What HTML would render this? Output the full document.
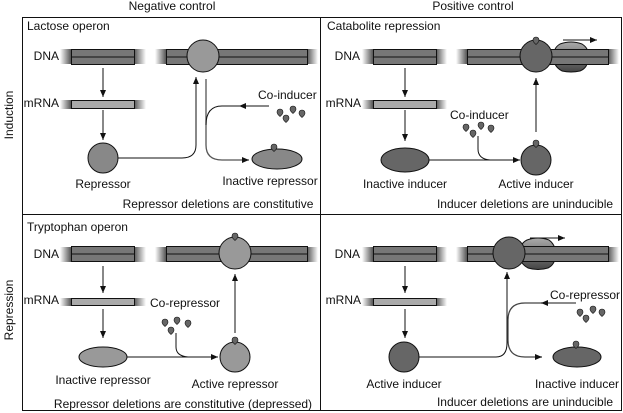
<!DOCTYPE html>
<html><head><meta charset="utf-8"><style>
html,body{margin:0;padding:0;background:#fff;width:623px;height:413px;overflow:hidden}
svg{display:block}
text{font-family:"Liberation Sans",Arial,sans-serif;font-size:12px;fill:#111}
</style></head><body>
<svg width="623" height="413" viewBox="0 0 623 413" xmlns="http://www.w3.org/2000/svg">
<defs>
<linearGradient id="gl" x1="0" x2="1" y1="0" y2="0"><stop offset="0" stop-color="#fff"/><stop offset="1" stop-color="#555"/></linearGradient>
<linearGradient id="gr" x1="0" x2="1" y1="0" y2="0"><stop offset="0" stop-color="#555"/><stop offset="1" stop-color="#fff"/></linearGradient>
<linearGradient id="pol" x1="0" x2="0" y1="0" y2="1"><stop offset="0" stop-color="#aaa"/><stop offset="0.5" stop-color="#777"/><stop offset="1" stop-color="#444"/></linearGradient>
<marker id="ah" markerWidth="8" markerHeight="8" refX="7" refY="3" orient="auto" markerUnits="userSpaceOnUse"><path d="M0,0 L7,3 L0,6z" fill="#111"/></marker>
</defs>
<g fill="none" stroke="#111" stroke-width="1">
<rect x="22.5" y="17.5" width="599" height="393"/>
<line x1="320.5" y1="17" x2="320.5" y2="411"/>
<line x1="22" y1="214.5" x2="621" y2="214.5"/>
</g>
<text x="172" y="10" text-anchor="middle">Negative control</text>
<text x="473" y="10" text-anchor="middle">Positive control</text>
<text transform="translate(13,115) rotate(-90)" text-anchor="middle">Induction</text>
<text transform="translate(13,310) rotate(-90)" text-anchor="middle">Repression</text>

<!-- TOP LEFT -->
<g>
<text x="27" y="30">Lactose operon</text>
<text x="59" y="60" text-anchor="end">DNA</text>
<rect x="60" y="49" width="11" height="15" fill="url(#gl)"/><rect x="134" y="49" width="12" height="15" fill="url(#gr)"/>
<rect x="71.5" y="49.5" width="63" height="15" fill="#777" stroke="#111"/><line x1="71" y1="57" x2="134" y2="57" stroke="#111"/>
<rect x="155" y="49" width="11" height="15" fill="url(#gl)"/><rect x="307" y="49" width="11" height="15" fill="url(#gr)"/>
<rect x="166.5" y="49.5" width="141" height="15" fill="#777" stroke="#111"/><line x1="166" y1="57" x2="307" y2="57" stroke="#111"/>
<circle cx="203" cy="56" r="16" fill="#999" stroke="#111"/>
<text x="59" y="107" text-anchor="end">mRNA</text>
<rect x="60" y="100" width="11" height="9" fill="url(#gl)"/><rect x="134" y="100" width="12" height="9" fill="url(#gr)"/>
<rect x="71.5" y="100.5" width="63" height="8" fill="#aaa" stroke="#111"/>
<line x1="103" y1="68" x2="103" y2="97" stroke="#111" marker-end="url(#ah)"/>
<line x1="103" y1="110" x2="103" y2="140" stroke="#111" marker-end="url(#ah)"/>
<circle cx="103" cy="158" r="15" fill="#888" stroke="#111"/>
<text x="103" y="188" text-anchor="middle">Repressor</text>
<path d="M118,158 H182 Q196,158 196,145 V77" fill="none" stroke="#111" marker-end="url(#ah)"/>
<path d="M206,79 V145 Q206,160 222,160 H249" fill="none" stroke="#555" stroke-width="1.3" marker-end="url(#ah)"/>
<line x1="269" y1="106" x2="239" y2="106" stroke="#111" marker-end="url(#ah)"/>
<path d="M240,106 H222 Q206,106 206,125" fill="none" stroke="#111"/>
<text x="258" y="99">Co-inducer</text>
<g fill="#666" stroke="#111" stroke-width="0.6">
<path d="M277,112 a3,3 0 1,1 6,0 q0,2 -3,4.5 q-3,-2.5 -3,-4.5z"/>
<path d="M283,118 a3,3 0 1,1 6,0 q0,2 -3,4.5 q-3,-2.5 -3,-4.5z"/>
<path d="M290,109 a3,3 0 1,1 6,0 q0,2 -3,4.5 q-3,-2.5 -3,-4.5z"/>
<path d="M299,113 a3,3 0 1,1 6,0 q0,2 -3,4.5 q-3,-2.5 -3,-4.5z"/>
</g>
<ellipse cx="277" cy="159" rx="25" ry="10" fill="#888" stroke="#111"/>
<path d="M271,147 a3,3 0 1,1 6,0 q0,2 -3,4.5 q-3,-2.5 -3,-4.5z" fill="#666" stroke="#111" stroke-width="0.6"/>
<text x="270" y="185" text-anchor="middle">Inactive repressor</text>
<text x="218" y="208" text-anchor="middle">Repressor deletions are constitutive</text>
</g>

<!-- TOP RIGHT -->
<g>
<text x="327" y="30">Catabolite repression</text>
<text x="360" y="60" text-anchor="end">DNA</text>
<rect x="362" y="49" width="11" height="15" fill="url(#gl)"/><rect x="436" y="49" width="11" height="15" fill="url(#gr)"/>
<rect x="373.5" y="49.5" width="63" height="15" fill="#777" stroke="#111"/><line x1="373" y1="57" x2="436" y2="57" stroke="#111"/>
<rect x="456" y="49" width="11" height="15" fill="url(#gl)"/><rect x="608" y="49" width="11" height="15" fill="url(#gr)"/>
<path d="M560,44 Q571,40 582,44 Q590,49 588,58 Q588,68 580,71 Q571,73 562,71 Q553,66 554,57 Q553,48 560,44z" fill="url(#pol)" stroke="#111"/>
<rect x="467.5" y="49.5" width="141" height="15" fill="#777" stroke="#111"/>
<line x1="467" y1="57" x2="608" y2="57" stroke="#111"/>
<circle cx="536" cy="56" r="16" fill="#666" stroke="#111"/>
<path d="M533,40 a3,3 0 1,1 6,0 q0,2 -3,4.5 q-3,-2.5 -3,-4.5z" fill="#666" stroke="#111" stroke-width="0.6"/>
<line x1="563" y1="40" x2="597" y2="40" stroke="#111" marker-end="url(#ah)"/>
<text x="361" y="107" text-anchor="end">mRNA</text>
<rect x="362" y="100" width="11" height="9" fill="url(#gl)"/><rect x="436" y="100" width="11" height="9" fill="url(#gr)"/>
<rect x="373.5" y="100.5" width="63" height="8" fill="#aaa" stroke="#111"/>
<line x1="405" y1="68" x2="405" y2="97" stroke="#111" marker-end="url(#ah)"/>
<line x1="405" y1="110" x2="405" y2="141" stroke="#111" marker-end="url(#ah)"/>
<ellipse cx="405" cy="160" rx="24" ry="12" fill="#666" stroke="#111"/>
<text x="405" y="188" text-anchor="middle">Inactive inducer</text>
<line x1="429" y1="160" x2="520" y2="160" stroke="#111" marker-end="url(#ah)"/>
<path d="M478,136 V149 Q478,159 490,160" fill="none" stroke="#111"/>
<text x="450" y="119">Co-inducer</text>
<g fill="#666" stroke="#111" stroke-width="0.6">
<path d="M463,127 a3,3 0 1,1 6,0 q0,2 -3,4.5 q-3,-2.5 -3,-4.5z"/>
<path d="M470,133 a3,3 0 1,1 6,0 q0,2 -3,4.5 q-3,-2.5 -3,-4.5z"/>
<path d="M478,125 a3,3 0 1,1 6,0 q0,2 -3,4.5 q-3,-2.5 -3,-4.5z"/>
<path d="M488,128 a3,3 0 1,1 6,0 q0,2 -3,4.5 q-3,-2.5 -3,-4.5z"/>
</g>
<circle cx="536" cy="160" r="15" fill="#666" stroke="#111"/>
<path d="M533,143 a3,3 0 1,1 6,0 q0,2 -3,4.5 q-3,-2.5 -3,-4.5z" fill="#666" stroke="#111" stroke-width="0.6"/>
<line x1="536" y1="132" x2="536" y2="78" stroke="#111" marker-end="url(#ah)"/>
<text x="536" y="188" text-anchor="middle">Active inducer</text>
<text x="525" y="208" text-anchor="middle">Inducer deletions are uninducible</text>
</g>

<!-- BOTTOM LEFT -->
<g>
<text x="27" y="231">Tryptophan operon</text>
<text x="59" y="258" text-anchor="end">DNA</text>
<rect x="60" y="247" width="11" height="15" fill="url(#gl)"/><rect x="134" y="247" width="12" height="15" fill="url(#gr)"/>
<rect x="71.5" y="246.5" width="63" height="15" fill="#777" stroke="#111"/><line x1="71" y1="254" x2="134" y2="254" stroke="#111"/>
<rect x="155" y="247" width="11" height="15" fill="url(#gl)"/><rect x="307" y="247" width="11" height="15" fill="url(#gr)"/>
<rect x="166.5" y="246.5" width="141" height="15" fill="#777" stroke="#111"/><line x1="166" y1="254" x2="307" y2="254" stroke="#111"/>
<circle cx="235" cy="253" r="16" fill="#999" stroke="#111"/>
<path d="M232,236 a3,3 0 1,1 6,0 q0,2 -3,4.5 q-3,-2.5 -3,-4.5z" fill="#666" stroke="#111" stroke-width="0.6"/>
<text x="59" y="304" text-anchor="end">mRNA</text>
<rect x="60" y="298" width="11" height="8" fill="url(#gl)"/><rect x="134" y="298" width="12" height="8" fill="url(#gr)"/>
<rect x="71.5" y="298.5" width="63" height="7" fill="#aaa" stroke="#111"/>
<line x1="103" y1="266" x2="103" y2="293" stroke="#111" marker-end="url(#ah)"/>
<line x1="103" y1="309" x2="103" y2="338" stroke="#111" marker-end="url(#ah)"/>
<ellipse cx="103" cy="357" rx="24" ry="10" fill="#999" stroke="#111"/>
<text x="103" y="384" text-anchor="middle">Inactive repressor</text>
<line x1="127" y1="357" x2="218" y2="357" stroke="#111" marker-end="url(#ah)"/>
<path d="M176,333 V347 Q176,356 188,357" fill="none" stroke="#111"/>
<text x="150" y="307">Co-repressor</text>
<g fill="#666" stroke="#111" stroke-width="0.6">
<path d="M162,322 a3,3 0 1,1 6,0 q0,2 -3,4.5 q-3,-2.5 -3,-4.5z"/>
<path d="M168,330 a3,3 0 1,1 6,0 q0,2 -3,4.5 q-3,-2.5 -3,-4.5z"/>
<path d="M174,320 a3,3 0 1,1 6,0 q0,2 -3,4.5 q-3,-2.5 -3,-4.5z"/>
<path d="M185,323 a3,3 0 1,1 6,0 q0,2 -3,4.5 q-3,-2.5 -3,-4.5z"/>
</g>
<circle cx="235" cy="357" r="15" fill="#999" stroke="#111"/>
<path d="M232,340 a3,3 0 1,1 6,0 q0,2 -3,4.5 q-3,-2.5 -3,-4.5z" fill="#666" stroke="#111" stroke-width="0.6"/>
<line x1="235" y1="333" x2="235" y2="274" stroke="#111" marker-end="url(#ah)"/>
<text x="235" y="388" text-anchor="middle">Active repressor</text>
<text x="183" y="408" text-anchor="middle">Repressor deletions are constitutive (depressed)</text>
</g>

<!-- BOTTOM RIGHT -->
<g>
<text x="360" y="258" text-anchor="end">DNA</text>
<rect x="362" y="247" width="11" height="15" fill="url(#gl)"/><rect x="436" y="247" width="11" height="15" fill="url(#gr)"/>
<rect x="373.5" y="246.5" width="63" height="15" fill="#777" stroke="#111"/><line x1="373" y1="254" x2="436" y2="254" stroke="#111"/>
<rect x="456" y="247" width="11" height="15" fill="url(#gl)"/><rect x="608" y="247" width="11" height="15" fill="url(#gr)"/>
<path d="M527,240 Q538,236 549,240 Q556,245 555,254 Q556,264 548,268 Q538,271 528,268 Q519,263 520,254 Q519,244 527,240z" fill="url(#pol)" stroke="#111"/>
<rect x="467.5" y="246.5" width="141" height="15" fill="#777" stroke="#111"/>
<line x1="467" y1="254" x2="608" y2="254" stroke="#111"/>
<circle cx="509" cy="253" r="16" fill="#666" stroke="#111"/>
<line x1="530" y1="238" x2="565" y2="238" stroke="#111" marker-end="url(#ah)"/>
<text x="361" y="304" text-anchor="end">mRNA</text>
<rect x="362" y="298" width="11" height="8" fill="url(#gl)"/><rect x="436" y="298" width="11" height="8" fill="url(#gr)"/>
<rect x="373.5" y="298.5" width="63" height="7" fill="#aaa" stroke="#111"/>
<line x1="405" y1="266" x2="405" y2="293" stroke="#111" marker-end="url(#ah)"/>
<line x1="405" y1="309" x2="405" y2="338" stroke="#111" marker-end="url(#ah)"/>
<circle cx="404" cy="357" r="15" fill="#666" stroke="#111"/>
<text x="404" y="388" text-anchor="middle">Active inducer</text>
<path d="M419,357 H496 Q507,357 507,343 V272" fill="none" stroke="#111" marker-end="url(#ah)"/>
<path d="M542,303 H525 Q508,303 508,320 V340 Q508,357 525,357 H542" fill="none" stroke="#444" stroke-width="1.2" marker-end="url(#ah)"/>
<line x1="576" y1="303" x2="541" y2="303" stroke="#444" stroke-width="1.2" marker-end="url(#ah)"/>
<text x="550" y="299">Co-repressor</text>
<g fill="#666" stroke="#111" stroke-width="0.6">
<path d="M577,312 a3,3 0 1,1 6,0 q0,2 -3,4.5 q-3,-2.5 -3,-4.5z"/>
<path d="M583,318 a3,3 0 1,1 6,0 q0,2 -3,4.5 q-3,-2.5 -3,-4.5z"/>
<path d="M590,309 a3,3 0 1,1 6,0 q0,2 -3,4.5 q-3,-2.5 -3,-4.5z"/>
<path d="M599,312 a3,3 0 1,1 6,0 q0,2 -3,4.5 q-3,-2.5 -3,-4.5z"/>
</g>
<ellipse cx="577" cy="357" rx="24" ry="10" fill="#666" stroke="#111"/>
<path d="M573,344 a3,3 0 1,1 6,0 q0,2 -3,4.5 q-3,-2.5 -3,-4.5z" fill="#666" stroke="#111" stroke-width="0.6"/>
<text x="577" y="388" text-anchor="middle">Inactive inducer</text>
<text x="525" y="406" text-anchor="middle">Inducer deletions are uninducible</text>
</g>
</svg>
</body></html>
